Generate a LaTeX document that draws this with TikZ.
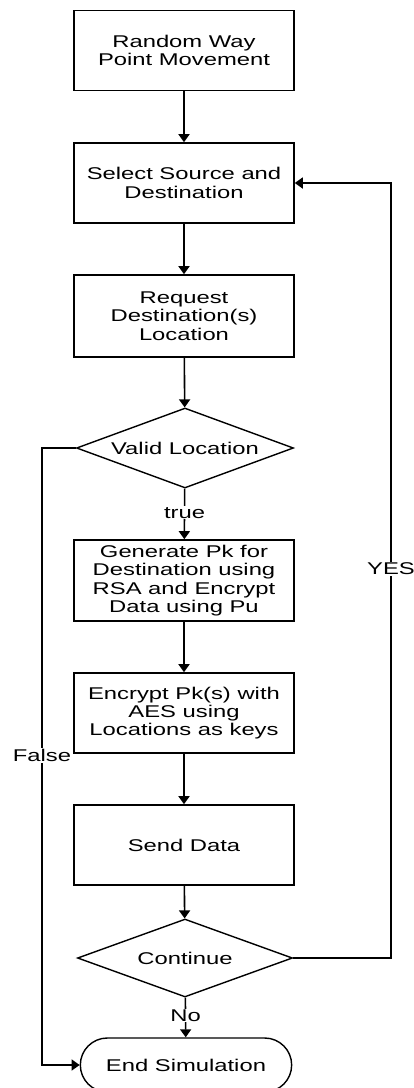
\documentclass[tikz,border=0pt]{standalone}
\usepackage{fontspec}
\setmainfont{Liberation Sans}[FakeStretch=1.4]
\usetikzlibrary{shapes.geometric,shapes.misc,arrows.meta}

\tikzset{
  procbox/.style={draw, line width=1.6pt, minimum width=220pt, minimum height=80pt,
    inner sep=2pt, align=center, font=\fontsize{17}{18.3}\selectfont},
  decide/.style={draw, diamond, line width=1.4pt, inner sep=0pt, aspect=2.7,
    minimum width=217pt, minimum height=80pt, font=\fontsize{17}{18.3}\selectfont},
  termin/.style={draw, rounded rectangle, line width=1.4pt, minimum width=218pt,
    minimum height=54pt, font=\fontsize{17}{18.3}\selectfont},
  flow/.style={line width=1.6pt, -{Triangle[width=11pt,length=8pt]}},
  lbl/.style={fill=white, inner sep=1pt, font=\fontsize{17}{18.3}\selectfont}
}

\begin{document}
\begin{tikzpicture}[x=1pt,y=1pt]
  \useasboundingbox (0,0) rectangle (413,-1088);
  % process steps
  \node[procbox] (move) at (184,-50.5) {Random Way\\Point Movement};
  \node[procbox] (select) at (184,-183) {Select Source and\\Destination};
  \node[procbox, minimum height=82pt] (request) at (184,-316) {Request\\Destination(s)\\Location};
  \node[decide] (valid) at (185,-448) {Valid Location};
  \node[procbox, minimum height=81pt] (gen) at (184,-580.5)
    {Generate Pk for\\Destination using\\RSA and Encrypt\\Data using Pu};
  \node[procbox] (enc) at (184,-713) {Encrypt Pk(s) with\\AES using\\Locations as keys};
  \node[procbox] (send) at (184,-845) {Send Data};
  \node[decide, minimum width=215pt, minimum height=78pt] (cont) at (185,-958) {Continue};
  \node[termin] (stop) at (186,-1065) {End Simulation};
  % side rails
  \coordinate (fl) at (42,-448);
  \coordinate (fr) at (391,-958);
  % arrows
  \draw[flow] (move) -- (select);
  \draw[flow] (select) -- (request);
  \draw[flow] (request) -- (valid);
  \draw[flow] (valid) -- node[lbl, pos=0.48] {true} (gen);
  \draw[flow] (gen) -- (enc);
  \draw[flow] (enc) -- (send);
  \draw[flow] (send) -- (cont);
  \draw[flow] (cont) -- node[lbl, pos=0.45] {No} (stop);
  \draw[flow] (valid.west) -- (fl) |- node[lbl, pos=0.249] {False} (stop.west);
  \draw[flow] (cont.east) -- (fr) |- node[lbl, pos=0.251] {YES} (select.east);
\end{tikzpicture}
\end{document}
